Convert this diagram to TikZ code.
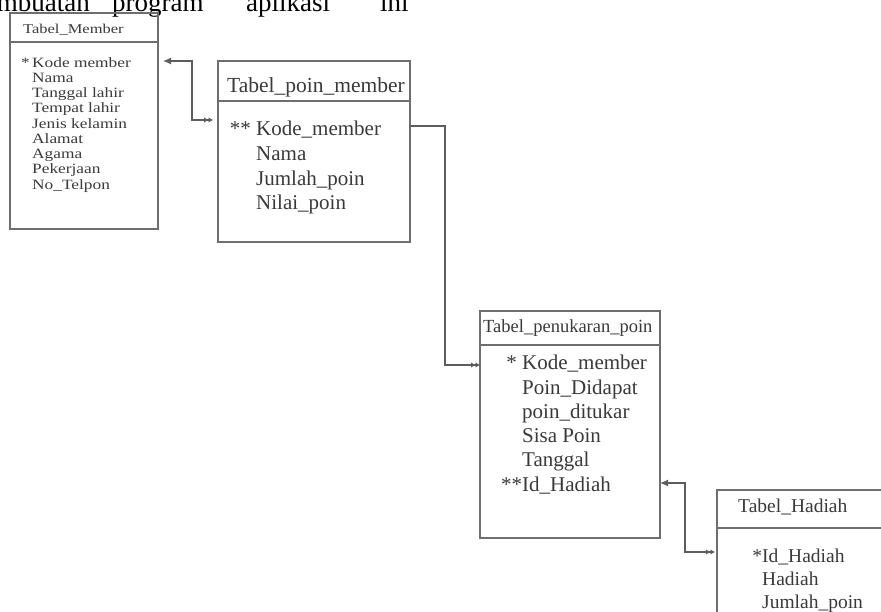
\documentclass[tikz,border=0pt]{standalone}
\usepackage{fontspec}
\setmainfont{Liberation Serif}
\newfontfamily\wideface[FakeStretch=1.22]{Liberation Serif}
\usepackage{xcolor}
\usepackage{tikz}
\usetikzlibrary{arrows.meta,calc}
\definecolor{ink}{HTML}{3A3A3A}
\definecolor{frame}{HTML}{6E6E6E}
\newcommand\fsz[2]{\fontsize{#1}{#2}\selectfont}
\tikzset{
  frm/.style={draw=frame, line width=1.3pt},
  tbl/.style={frm, inner sep=0pt, outer sep=0pt, anchor=north west},
  hdr/.style={anchor=west, inner sep=0pt, text=ink},
  fld/.style={anchor=north west, inner sep=0pt, align=left, text=ink},
  cuttxt/.style={inner sep=0pt, font=\fsz{27}{31}},
  rel/.style={draw=frame!85!black, line width=1.2pt},
  tipL/.tip={Latex[length=8pt,width=7pt]},
  tipD/.tip={Latex[length=4.5pt,width=5.5pt] Latex[length=4.5pt,width=5.5pt]},
}

\begin{document}
\begin{tikzpicture}[x=1pt,y=-1pt]
  \useasboundingbox (0,0) rectangle (881,612);
  \clip (0,0) rectangle (881,612);
  \fill[white] (0,0) rectangle (881,612);

  % line of text cut off at the top
  \node[cuttxt, anchor=base east] (w1) at (90,12) {pembuatan};
  \node[cuttxt, anchor=base west] (w2) at (112,12) {program};
  \node[cuttxt, anchor=base west] (w3) at (246,12) {aplikasi};
  \node[cuttxt, anchor=base west] (w4) at (380,12) {ini};

  % Tabel_Member
  \node[tbl, minimum width=148pt, minimum height=216pt] (mem) at (10,13) {};
  \draw[frm] ([shift={(0,29)}]mem.north west) -- ([shift={(0,29)}]mem.north east);
  \node[hdr, font=\wideface\fsz{13.5}{16}] (memT) at (23,30) {Tabel\_Member};
  \node[fld, font=\wideface\fsz{14.2}{15.25}] (memF) at (32,57)
    {\llap{*\,}Kode member\\Nama\\Tanggal lahir\\Tempat lahir\\Jenis kelamin\\Alamat\\Agama\\Pekerjaan\\No\_Telpon};

  % Tabel_poin_member
  \node[tbl, minimum width=192pt, minimum height=181pt] (pm) at (218,61) {};
  \draw[frm] ([shift={(0,40)}]pm.north west) -- ([shift={(0,40)}]pm.north east);
  \node[hdr, font=\fsz{21.5}{25}] (pmT) at (227,87) {Tabel\_poin\_member};
  \node[fld, font=\fsz{21}{24.7}] (pmF) at (256,121)
    {\llap{** }Kode\_member\\Nama\\Jumlah\_poin\\Nilai\_poin};

  % Tabel_penukaran_poin
  \node[tbl, minimum width=180pt, minimum height=227pt] (tk) at (480,311) {};
  \draw[frm] ([shift={(0,34)}]tk.north west) -- ([shift={(0,34)}]tk.north east);
  \node[hdr, font=\fsz{18.5}{22}] (tkT) at (483,328) {Tabel\_penukaran\_poin};
  \node[fld, font=\fsz{21}{24.3}] (tkF) at (522,355)
    {\llap{* }Kode\_member\\Poin\_Didapat\\poin\_ditukar\\Sisa Poin\\Tanggal\\\llap{**}Id\_Hadiah};

  % Tabel_Hadiah
  \node[tbl, minimum width=200pt, minimum height=160pt] (hd) at (717,490) {};
  \draw[frm] ([shift={(0,38)}]hd.north west) -- ([shift={(0,38)}]hd.north east);
  \node[hdr, font=\fsz{19.5}{23}] (hdT) at (738,507) {Tabel\_Hadiah};
  \node[fld, font=\fsz{19.5}{23}] (hdF) at (762,549)
    {\llap{*}Id\_Hadiah\\Hadiah\\Jumlah\_poin};

  % relations
  \draw[rel, tipL-tipD, shorten >=5pt] ([shift={(5,48)}]mem.north east) -- ++(29,0) |- ([shift={(0,59)}]pm.north west);
  \draw[rel, -tipD] ([shift={(0,65)}]pm.north east) -- ++(35,0) |- ([shift={(0,54)}]tk.north west);
  \draw[rel, tipL-tipD, shorten >=2pt] ([shift={(0,172)}]tk.north east) -- ++(25,0) |- ([shift={(0,62)}]hd.north west);
\end{tikzpicture}
\end{document}
